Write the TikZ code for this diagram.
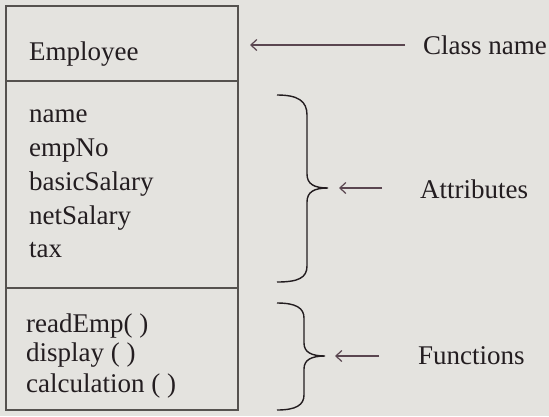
\documentclass[tikz,border=0pt]{standalone}
\usepackage{fontspec}
\setmainfont{Liberation Serif}
\usetikzlibrary{arrows.meta}
\definecolor{bgc}{HTML}{E4E3DF}
\definecolor{inkc}{HTML}{231D20}
\definecolor{boxc}{HTML}{55524F}
\definecolor{arrc}{HTML}{5A4650}
\tikzset{
  lbl/.style={anchor=base west, inner sep=0pt, text=inkc, font=\fontsize{27}{30}\selectfont},
  side/.style={anchor=west, inner sep=0pt, text=inkc, font=\fontsize{27}{30}\selectfont},
  boxline/.style={draw=boxc, line width=1.1pt},
  bracec/.style={draw=inkc, line width=1.4pt},
  pointer/.style={draw=arrc, line width=1.2pt, -{Straight Barb[length=6pt,width=11pt]}}
}
\begin{document}
\begin{tikzpicture}[x=1pt,y=-1pt]
\fill[bgc] (0,0) rectangle (549,416);
\useasboundingbox (0,0) rectangle (549,416);
% class box
\draw[boxline] (6,6) rectangle (238,410);
\draw[boxline] (6,81) -- (238,81);
\draw[boxline] (6,288) -- (238,288);
% texts
\node[lbl] (emp) at (29,60) {Employee};
\node[lbl] (a1) at (29,122) {name};
\node[lbl] (a2) at (29,156) {empNo};
\node[lbl] (a3) at (29,190) {basicSalary};
\node[lbl] (a4) at (29,224) {netSalary};
\node[lbl] (a5) at (29,257) {tax};
\node[lbl] (f1) at (26,332) {readEmp( )};
\node[lbl] (f2) at (26,361) {display ( )};
\node[lbl] (f3) at (26,392) {calculation ( )};
% side labels
\node[side] (cls) at (423,45) {Class name};
\node[side] (attr) at (420,189) {Attributes};
\node[side] (func) at (418,356) {Functions};
% braces
\draw[bracec] (277,95) .. controls (298,95) and (307,101) .. (307,115) -- (307,174)
  .. controls (307,184) and (314,188) .. (328,188)
  .. controls (314,188) and (307,192) .. (307,202) -- (307,266)
  .. controls (307,278) and (298,282) .. (277,282);
\draw[bracec] (277,303) .. controls (296,303) and (304,308) .. (304,318) -- (304,343)
  .. controls (304,352) and (311,356) .. (325,356)
  .. controls (311,356) and (304,360) .. (304,369) -- (304,395)
  .. controls (304,405) and (296,410) .. (277,410);
% pointers
\coordinate (ctail) at (405,45);
\coordinate (chead) at (250,45);
\coordinate (atail) at (382,188);
\coordinate (ahead) at (339,188);
\coordinate (ftail) at (379,356);
\coordinate (fhead) at (335,356);
\draw[pointer] (ctail) -- (chead);
\draw[pointer] (atail) -- (ahead);
\draw[pointer] (ftail) -- (fhead);
\end{tikzpicture}
\end{document}
